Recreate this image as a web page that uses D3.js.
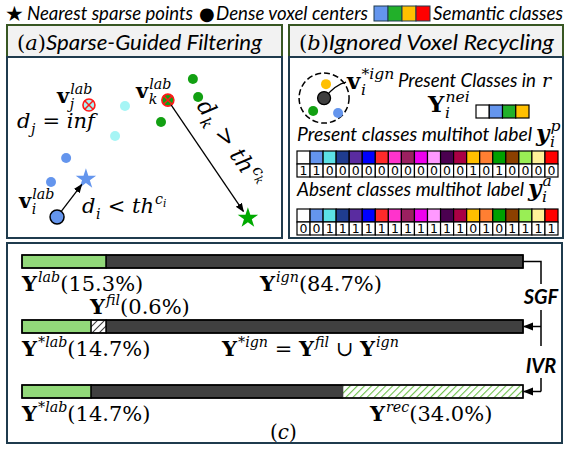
<!DOCTYPE html>
<html>
<head>
<meta charset="utf-8">
<script src="https://d3js.org/d3.v7.min.js"></script>
<style>
  body { margin: 0; background: #fff; }
  .sans { font-family: "Lato", "Open Sans", sans-serif; font-style: italic; }
  .math { font-family: "DejaVu Serif", serif; white-space: pre; }
</style>
</head>
<body>
<div id="chart"></div>
<script>

// ---- data ----
var legendColors = ["#6495ed", "#22b02a", "#ffc000", "#ff0000"];
var neighbourColors = ["#ffffff", "#6495ed", "#22b02a", "#ffc000"];
var classColors = ["#ffffff", "#6495ed", "#5ce1e6", "#1f3c8f", "#5a2ca0", "#0000ff", "#ff2a2a",
                   "#ff33cc", "#9b2060", "#ee00ee", "#ff99ff", "#4b0050", "#aa0044", "#ffc000",
                   "#ff7f32", "#00a000", "#8b4000", "#99ee55", "#fff099", "#ff0000"];
var presentBits = [1,1,0,0,0,0,0,0,0,0,0,0,0,1,0,1,0,0,0,0];
var absentBits  = [0,0,1,1,1,1,1,1,1,1,1,1,1,0,1,0,1,1,1,1];

// dense voxel centers in panel (a), in percent of the panel
var denseCyan  = [[42.9, 27.1], [39.3, 43.6]];
var denseBlue  = [[21.5, 55.8], [16.0, 69.1]];
var denseGreen = [[67.6, 12.2], [69.5, 22.1], [56.0, 35.9]];
var filtered   = [{p: [29.8, 26.5], c: "#a6f5f5"}, {p: [58.5, 23.8], c: "#12a012"}];
var labelled   = [18.2, 88.4];
var stars      = [{p: [28.7, 67.4], c: "#6495ed"}, {p: [87.6, 89.0], c: "#00aa00"}];

// bar rows in panel (c): segment kind and drawn width (percent of bar)
var barSegments = [
  [["lab", 16.8], ["ign", 83.2]],
  [["lab", 13.8], ["fil", 3.0], ["ign", 83.2]],
  [["lab", 13.8], ["ign", 50.2], ["rec", 36.0]]
];
var pctLab = "15.3%", pctIgn = "84.7%", pctFil = "0.6%", pctLabStar = "14.7%", pctRec = "34.0%";

var svg = d3.select("#chart").append("svg").attr("width", 565).attr("height", 449);
var defs = svg.append("defs");

defs.append("marker").attr("id", "arr").attr("viewBox", "0 0 10 10").attr("refX", 9).attr("refY", 5)
  .attr("markerWidth", 7).attr("markerHeight", 7).attr("orient", "auto")
  .append("path").attr("d", "M0,1L10,5L0,9z").attr("fill", "#000");

function hatch(id, bg, col, w) {
  var p = defs.append("pattern").attr("id", id).attr("patternUnits", "userSpaceOnUse")
    .attr("width", 5).attr("height", 5).attr("patternTransform", "rotate(45)");
  p.append("rect").attr("width", 5).attr("height", 5).attr("fill", bg);
  p.append("line").attr("x1", 0).attr("y1", 0).attr("x2", 0).attr("y2", 5)
    .attr("stroke", col).attr("stroke-width", w);
}
hatch("hGray", "#ffffff", "#404040", 2);
hatch("hGreen", "#ffffff", "#6cbf4a", 2.2);

// italic sans text squeezed / stretched to the width seen in the picture
function sans(g, x, y, size, str, len) {
  var t = g.append("text").attr("class", "sans").attr("x", x).attr("y", y).attr("font-size", size).text(str);
  if (len) t.attr("textLength", len).attr("lengthAdjust", "spacingAndGlyphs");
  return t;
}

// math text helper: base glyph with optional sup / sub stacked after it
function math(g, x, y, size, parts) {
  parts.forEach(function(pt) {
    var t = g.append("text").attr("class", "math").attr("x", x).attr("y", y)
      .attr("font-size", size).text(pt.t);
    if (pt.f.indexOf("b") >= 0) t.attr("font-weight", "bold");
    if (pt.f.indexOf("i") >= 0) t.attr("font-style", "italic");
    var w = t.node().getComputedTextLength();
    var extra = 0;
    if (pt.sup) {
      var s = g.append("text").attr("class", "math").attr("x", x + w + 1).attr("y", y - size * 0.45)
        .attr("font-size", size * 0.68).attr("font-style", "italic").text(pt.sup);
      var sw = s.node().getComputedTextLength();
      if (pt.supSub) {
        g.append("text").attr("class", "math").attr("x", x + w + 1 + sw).attr("y", y - size * 0.3)
          .attr("font-size", size * 0.5).attr("font-style", "italic").text(pt.supSub);
        sw += size * 0.3;
      }
      extra = Math.max(extra, sw + 1);
    }
    if (pt.sub) {
      var b = g.append("text").attr("class", "math").attr("x", x + w + 0.5).attr("y", y + size * 0.28)
        .attr("font-size", size * 0.68).attr("font-style", "italic").text(pt.sub);
      extra = Math.max(extra, b.node().getComputedTextLength() + 1);
    }
    x += w + extra;
  });
  return x;
}

// ---- header legend ----
var head = svg.append("g");
head.append("text").attr("x", 5).attr("y", 21).attr("font-size", 21).attr("font-family", "DejaVu Sans").text("★");
sans(head, 27, 20, 19, "Nearest sparse points", 166);
head.append("text").attr("x", 199).attr("y", 20).attr("font-size", 18).attr("font-family", "DejaVu Sans").text("●");
sans(head, 216, 20, 19, "Dense voxel centers", 152);
var lx = d3.scaleBand().domain(d3.range(legendColors.length)).range([374, 430]);
head.selectAll("rect.leg").data(legendColors).enter().append("rect").attr("class", "leg")
  .attr("x", function(d, i) { return lx(i); }).attr("y", 6).attr("width", lx.bandwidth()).attr("height", 15)
  .attr("fill", function(d) { return d; }).attr("stroke", "#1f3b4d").attr("stroke-width", 1);
sans(head, 433, 20, 19, "Semantic classes", 130);

// ---- panel frames ----
function panel(x0, x1, title, letter, len) {
  svg.append("rect").attr("x", x0).attr("y", 25).attr("width", x1 - x0).attr("height", 32)
    .attr("fill", "#f2f2f2").attr("stroke", "#385723").attr("stroke-width", 2);
  svg.append("rect").attr("x", x0).attr("y", 57).attr("width", x1 - x0).attr("height", 181)
    .attr("fill", "#fff").attr("stroke", "#1f3b4d").attr("stroke-width", 2);
  var g = svg.append("g");
  var x = math(g, x0 + 10, 50, 21, [{t: "(", f: "r"}, {t: letter, f: "i"}, {t: ")", f: "r"}]);
  sans(g, x, 50, 22, title, len);
}
panel(7, 282, "Sparse-Guided Filtering", "a", 216);
panel(289, 563, "Ignored Voxel Recycling", "b", 225);

// ---- panel (a) ----
var xa = d3.scaleLinear().domain([0, 100]).range([7, 282]);
var ya = d3.scaleLinear().domain([0, 100]).range([57, 238]);
var ga = svg.append("g");

function dots(data, col) {
  ga.selectAll(null).data(data).enter().append("circle")
    .attr("cx", function(d) { return xa(d[0]); }).attr("cy", function(d) { return ya(d[1]); })
    .attr("r", 5).attr("fill", col);
}
dots(denseCyan, "#a6f5f5");
dots(denseBlue, "#6495ed");
dots(denseGreen, "#12a012");

filtered.forEach(function(d) {
  var cx = xa(d.p[0]), cy = ya(d.p[1]), r = 6;
  ga.append("circle").attr("cx", cx).attr("cy", cy).attr("r", r).attr("fill", d.c)
    .attr("stroke", "#ff1a1a").attr("stroke-width", 1.6);
  var k = r * 0.7;
  ga.append("path").attr("d", "M" + (cx - k) + "," + (cy - k) + "L" + (cx + k) + "," + (cy + k) +
      "M" + (cx + k) + "," + (cy - k) + "L" + (cx - k) + "," + (cy + k))
    .attr("stroke", "#ff1a1a").attr("stroke-width", 1.5);
});

stars.forEach(function(d) {
  ga.append("path").attr("d", d3.symbol(d3.symbolStar, 130)())
    .attr("transform", "translate(" + xa(d.p[0]) + "," + ya(d.p[1]) + ")").attr("fill", d.c);
});

function arrow(g, a, b, shorten0, shorten1) {
  var dx = b[0] - a[0], dy = b[1] - a[1], L = Math.sqrt(dx * dx + dy * dy);
  g.append("line").attr("x1", a[0] + dx / L * shorten0).attr("y1", a[1] + dy / L * shorten0)
    .attr("x2", b[0] - dx / L * shorten1).attr("y2", b[1] - dy / L * shorten1)
    .attr("stroke", "#000").attr("stroke-width", 1.3).attr("marker-end", "url(#arr)");
}
var pI = [xa(labelled[0]), ya(labelled[1])], sI = [xa(stars[0].p[0]), ya(stars[0].p[1])];
var pK = [xa(filtered[1].p[0]), ya(filtered[1].p[1])], sK = [xa(stars[1].p[0]), ya(stars[1].p[1])];
arrow(ga, pI, sI, 6, 7);
arrow(ga, pK, sK, 6, 8);
ga.append("circle").attr("cx", pI[0]).attr("cy", pI[1]).attr("r", 7).attr("fill", "#6495ed")
  .attr("stroke", "#000").attr("stroke-width", 1.5);

math(ga, 57, 103, 21, [{t: "v", f: "b", sup: "lab", sub: "j"}]);
math(ga, 136, 98, 21, [{t: "v", f: "b", sup: "lab", sub: "k"}]);
math(ga, 19, 208, 21, [{t: "v", f: "b", sup: "lab", sub: "i"}]);
math(ga, 17, 128, 21, [{t: "d", f: "i", sub: "j"}, {t: " = ", f: "r"}, {t: "inf", f: "i"}]);
math(ga, 82, 213, 21, [{t: "d", f: "i", sub: "i"}, {t: " < ", f: "r"}, {t: "th", f: "i", sup: "c", supSub: "i"}]);
var rot = ga.append("g").attr("transform", "translate(196,106) rotate(56)");
math(rot, 0, 0, 23, [{t: "d", f: "i", sub: "k"}, {t: " > ", f: "r"}, {t: "th", f: "i", sup: "c", supSub: "k"}]);

// ---- panel (b) ----
var gb = svg.append("g");
var xb = d3.scaleLinear().domain([0, 100]).range([289, 563]);
var yb = d3.scaleLinear().domain([0, 100]).range([57, 238]);
var ctr = [xb(12.8), yb(22.7)];
gb.append("circle").attr("cx", ctr[0]).attr("cy", ctr[1]).attr("r", 25).attr("fill", "none")
  .attr("stroke", "#000").attr("stroke-width", 1.5).attr("stroke-dasharray", "6,3");
var neigh = [[13.5, 15.0, "#ffc000"], [8.8, 29.8, "#12a012"], [17.9, 30.9, "#6495ed"]];
gb.selectAll(null).data(neigh).enter().append("circle")
  .attr("cx", function(d) { return xb(d[0]); }).attr("cy", function(d) { return yb(d[1]); })
  .attr("r", 5).attr("fill", function(d) { return d[2]; });
gb.append("path").attr("d", "M" + ctr[0] + "," + ctr[1] + " Q" + (ctr[0] + 12) + "," + (ctr[1] - 14) + " " + (ctr[0] + 22) + "," + (ctr[1] - 16))
  .attr("fill", "none").attr("stroke", "#000").attr("stroke-width", 1.3);
gb.append("circle").attr("cx", ctr[0]).attr("cy", ctr[1]).attr("r", 6.5).attr("fill", "#404040")
  .attr("stroke", "#000").attr("stroke-width", 1.3);

math(gb, 347, 89, 23, [{t: "v", f: "b", sup: "*ign", sub: "i"}]);
sans(gb, 398, 87, 19, "Present Classes in", 138);
gb.append("text").attr("class", "math").attr("x", 542).attr("y", 87).attr("font-size", 19).attr("font-style", "italic").text("r");
math(gb, 428, 112, 23, [{t: "Y", f: "b", sup: "nei", sub: "i"}]);
var nx = d3.scaleBand().domain(d3.range(neighbourColors.length)).range([476, 529]);
gb.selectAll("rect.nei").data(neighbourColors).enter().append("rect").attr("class", "nei")
  .attr("x", function(d, i) { return nx(i); }).attr("y", 105).attr("width", nx.bandwidth()).attr("height", 13)
  .attr("fill", function(d) { return d; }).attr("stroke", "#000").attr("stroke-width", 1.2);

sans(gb, 297, 141, 19, "Present classes multihot label", 235);
math(gb, 536, 141, 23, [{t: "y", f: "bi", sup: "p", sub: "i"}]);
sans(gb, 297, 196, 19, "Absent classes multihot label", 227);
math(gb, 528, 196, 23, [{t: "y", f: "bi", sup: "a", sub: "i"}]);

var cx = d3.scaleBand().domain(d3.range(classColors.length)).range([297, 558]);
function bitRow(bits, y0) {
  var g = gb.append("g");
  g.selectAll("rect.c").data(classColors).enter().append("rect").attr("class", "c")
    .attr("x", function(d, i) { return cx(i); }).attr("y", y0).attr("width", cx.bandwidth()).attr("height", 13)
    .attr("fill", function(d) { return d; }).attr("stroke", "#000").attr("stroke-width", 1.2);
  g.selectAll("rect.b").data(bits).enter().append("rect").attr("class", "b")
    .attr("x", function(d, i) { return cx(i); }).attr("y", y0 + 13).attr("width", cx.bandwidth()).attr("height", 13)
    .attr("fill", "#fff").attr("stroke", "#000").attr("stroke-width", 1.2);
  g.selectAll("text").data(bits).enter().append("text")
    .attr("x", function(d, i) { return cx(i) + cx.bandwidth() / 2; }).attr("y", y0 + 24)
    .attr("text-anchor", "middle").attr("font-family", "DejaVu Sans").attr("font-size", 12.5).text(function(d) { return d; });
}
bitRow(presentBits, 151);
bitRow(absentBits, 209);

// ---- panel (c) ----
svg.append("rect").attr("x", 7).attr("y", 243).attr("width", 555).attr("height", 200)
  .attr("fill", "#fff").attr("stroke", "#1f3b4d").attr("stroke-width", 2);
var gc = svg.append("g");
var xc = d3.scaleLinear().domain([0, 100]).range([22, 523]);
var rowY = [255, 320, 385], barH = 13;
var fills = {lab: "#92d97a", ign: "#404040", fil: "url(#hGray)", rec: "url(#hGreen)"};
barSegments.forEach(function(segs, r) {
  var acc = 0;
  segs.forEach(function(s) {
    gc.append("rect").attr("x", xc(acc)).attr("y", rowY[r]).attr("width", xc(acc + s[1]) - xc(acc)).attr("height", barH)
      .attr("fill", fills[s[0]]).attr("stroke", s[0] === "rec" ? "#404040" : "#000").attr("stroke-width", 1.3);
    acc += s[1];
  });
  gc.append("rect").attr("x", xc(0)).attr("y", rowY[r]).attr("width", xc(100) - xc(0)).attr("height", barH)
    .attr("fill", "none").attr("stroke", "#000").attr("stroke-width", 1.5);
});

var fs = 21;
function pctLabel(x, y, sup, pct) {
  math(gc, x, y, fs, [{t: "Y", f: "b", sup: sup}, {t: "(" + pct + ")", f: "r"}]);
}
pctLabel(22, 291, "lab", pctLab);
pctLabel(260, 291, "ign", pctIgn);
pctLabel(90, 314, "fil", pctFil);
pctLabel(22, 356, "*lab", pctLabStar);
math(gc, 222, 356, fs, [{t: "Y", f: "b", sup: "*ign"}, {t: " = ", f: "r"}, {t: "Y", f: "b", sup: "fil"},
  {t: " ∪ ", f: "r"}, {t: "Y", f: "b", sup: "ign"}]);
pctLabel(22, 421, "*lab", pctLabStar);
pctLabel(370, 421, "rec", pctRec);
var ct = gc.append("g");
math(ct, 270, 439, 20, [{t: "(", f: "r"}, {t: "c", f: "i"}, {t: ")", f: "r"}]);

// connectors SGF / IVR
var lineX = 541, endX = xc(100);
var conn = "M" + endX + "," + (rowY[0] + barH / 2) + "H" + lineX + "V" + 284 + "M" + lineX + ",310V" + 346 +
           "M" + lineX + ",378V" + (rowY[2] + barH / 2);
gc.append("path").attr("d", conn).attr("fill", "none").attr("stroke", "#000").attr("stroke-width", 1.5);
gc.append("line").attr("x1", lineX).attr("y1", rowY[1] + barH / 2).attr("x2", endX + 1).attr("y2", rowY[1] + barH / 2)
  .attr("stroke", "#000").attr("stroke-width", 1.5).attr("marker-end", "url(#arr)");
gc.append("line").attr("x1", lineX).attr("y1", rowY[2] + barH / 2).attr("x2", endX + 1).attr("y2", rowY[2] + barH / 2)
  .attr("stroke", "#000").attr("stroke-width", 1.5).attr("marker-end", "url(#arr)");
gc.append("text").attr("x", lineX).attr("y", 304).attr("text-anchor", "middle").attr("font-family", "Lato, sans-serif")
  .attr("font-style", "italic").attr("font-weight", "bold").attr("font-size", 20).text("SGF");
gc.append("text").attr("x", lineX).attr("y", 373).attr("text-anchor", "middle").attr("font-family", "Lato, sans-serif")
  .attr("font-style", "italic").attr("font-weight", "bold").attr("font-size", 20).text("IVR");

</script>
</body>
</html>
